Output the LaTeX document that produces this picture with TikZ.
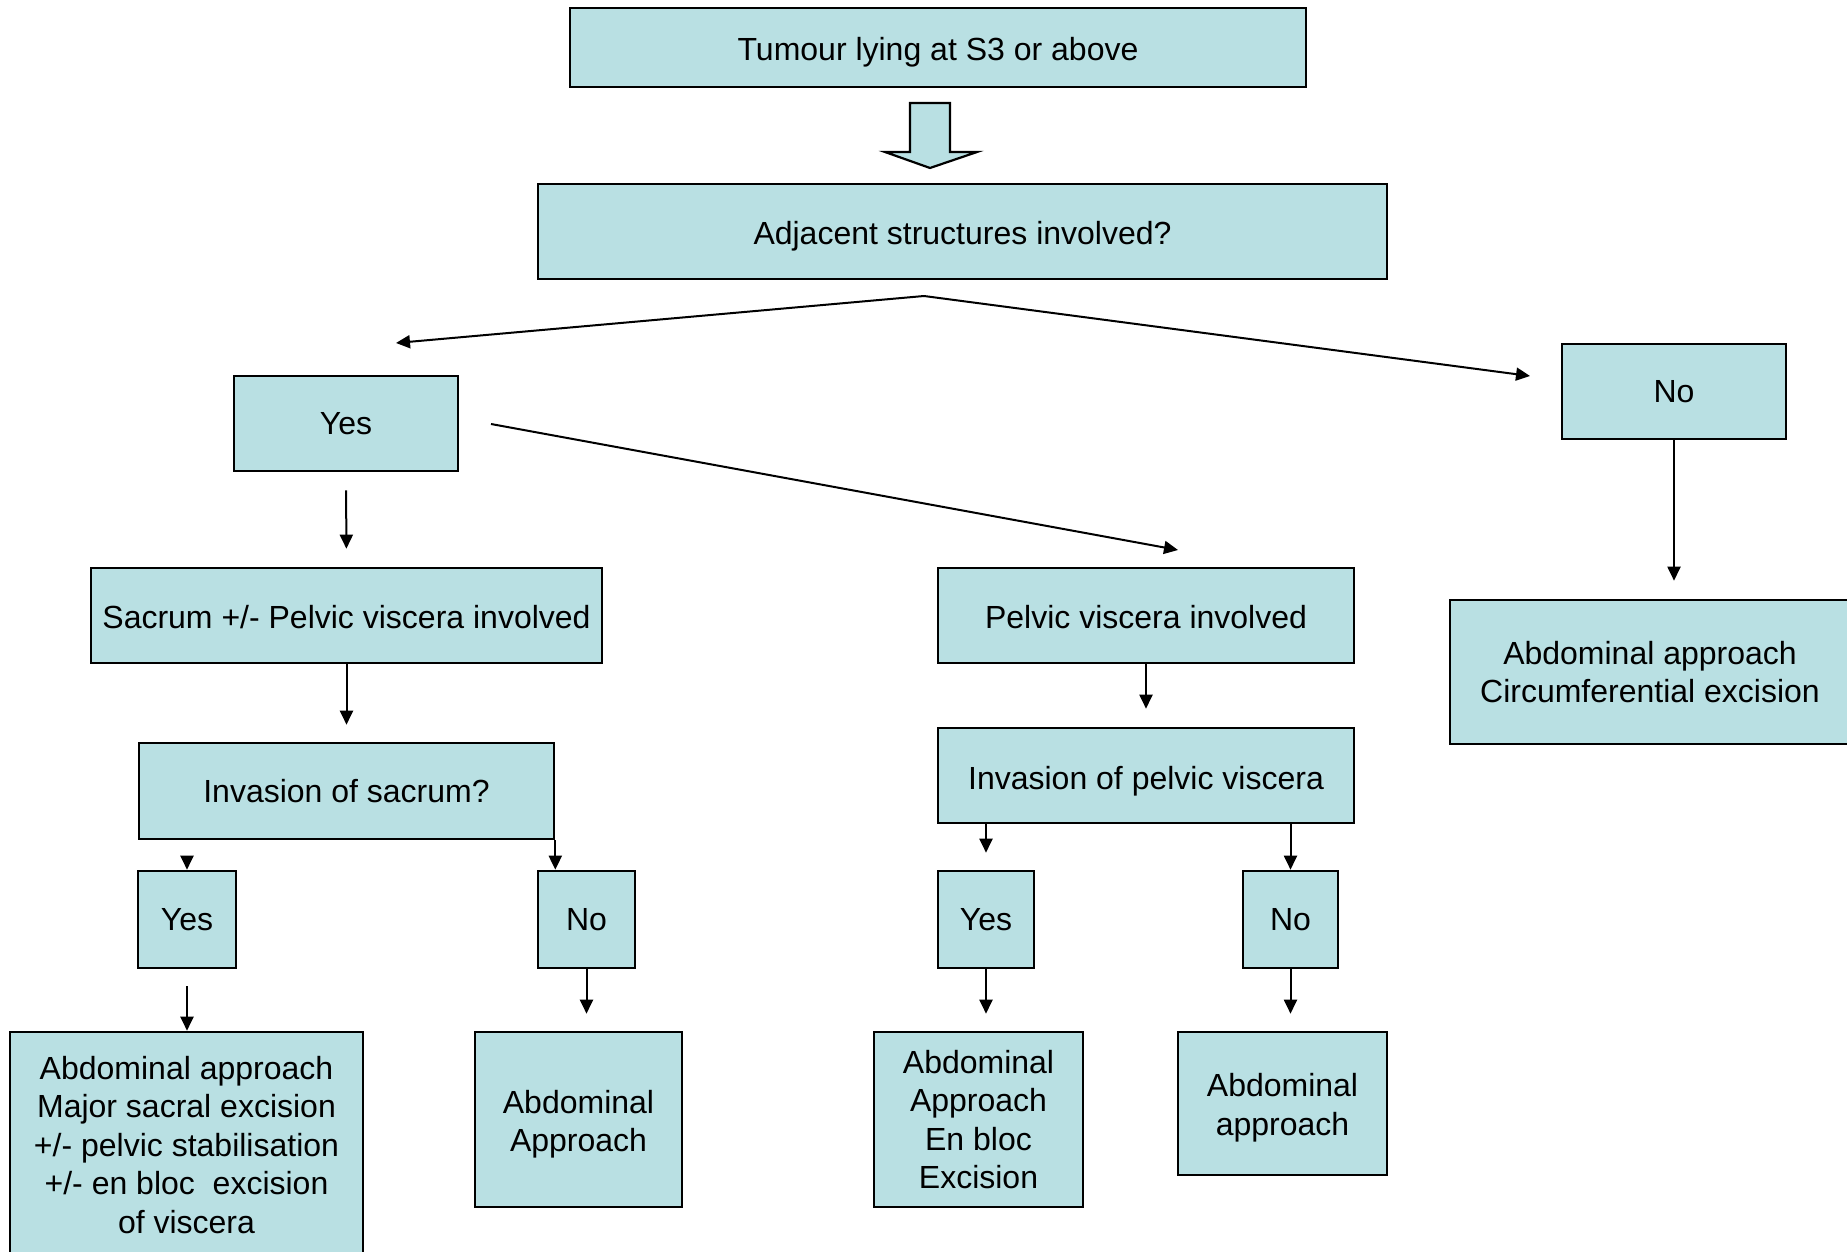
\documentclass[tikz,border=0pt]{standalone}
\usepackage{fontspec}
\setmainfont{Liberation Sans}
\usetikzlibrary{arrows.meta}
\definecolor{boxfill}{HTML}{B9E0E3}
\begin{document}
\begin{tikzpicture}[x=1pt,y=-1pt,
  box/.style={draw=black, line width=2.6pt, fill=boxfill, inner sep=0pt, align=center,
    font=\fontsize{32}{38.5}\selectfont},
  down/.style={text height=#1},
  conn/.style={draw=black, line width=2pt, -{Triangle[length=14pt,width=13pt]}}]
\useasboundingbox (0,0) rectangle (1847,1252);
\clip (0,0) rectangle (1847,1252);
\fill[white] (0,0) rectangle (1847,1252);
% boxes
\node[box, down=33pt, minimum width=736pt, minimum height=79pt] (top) at (938,47.5) {Tumour lying at S3 or above};
\node[box, down=33pt, minimum width=849pt, minimum height=95pt] (adj) at (962.5,231.5) {Adjacent structures involved?};
\node[box, minimum width=224pt, minimum height=95pt] (yes1) at (346,423.5) {Yes};
\node[box, minimum width=224pt, minimum height=95pt] (no1) at (1674,391.5) {No};
\node[box, down=27pt, minimum width=511pt, minimum height=95pt] (sac) at (346.5,615.5) {Sacrum +/- Pelvic viscera involved};
\node[box, down=27pt, minimum width=416pt, minimum height=95pt] (pel) at (1146,615.5) {Pelvic viscera involved};
\node[box, minimum width=400pt, minimum height=144pt] (circ) at (1650,672) {Abdominal approach\\Circumferential excision};
\node[box, minimum width=415pt, minimum height=96pt] (invs) at (346.5,791) {Invasion of sacrum?};
\node[box, down=34pt, minimum width=416pt, minimum height=95pt] (invp) at (1146,775.5) {Invasion of pelvic viscera};
\node[box, minimum width=98pt, minimum height=97pt] (yes2) at (187,919.5) {Yes};
\node[box, minimum width=97pt, minimum height=97pt] (no2) at (586.5,919.5) {No};
\node[box, minimum width=96pt, minimum height=97pt] (yes3) at (986,919.5) {Yes};
\node[box, minimum width=95pt, minimum height=97pt] (no3) at (1290.5,919.5) {No};
\node[box, minimum width=353pt, minimum height=226pt] (maj) at (186.5,1145) {Abdominal approach\\Major sacral excision\\+/- pelvic stabilisation\\+/- en bloc\ \ excision\\of viscera};
\node[box, down=71pt, minimum width=207pt, minimum height=175pt] (abd2) at (578.5,1119.5) {Abdominal\\Approach};
\node[box, minimum width=209pt, minimum height=175pt] (abd3) at (978.5,1119.5) {Abdominal\\Approach\\En bloc\\Excision};
\node[box, down=70pt, minimum width=209pt, minimum height=143pt] (abd4) at (1282.5,1103.5) {Abdominal\\approach};
% block arrow
\draw[line width=2.2pt, fill=boxfill, line join=miter]
  (910,103) -- (950,103) -- (950,152) -- (977,152) -- (930,168) -- (885,152) -- (910,152) -- cycle;
% coordinates
\coordinate (split) at (924,296);
\coordinate (yesend) at (396,343);
\coordinate (noend) at (1530,376);
\coordinate (ypstart) at (491,424);
\coordinate (ypend) at (1178,550);
% connectors
\draw[conn] (split) -- (yesend);
\draw[conn] (split) -- (noend);
\draw[conn, shorten <=18pt, shorten >=18pt] (yes1.south) -- (sac.north);
\draw[conn] (ypstart) -- (ypend);
\draw[conn, shorten >=18pt] (no1.south) -- (circ.north -| no1.south);
\draw[conn, shorten >=17pt] (sac.south) -- (invs.north);
\draw[conn, shorten <=17pt] (invs.south -| yes2.north) -- (yes2.north);
\draw[conn] (invs.south east) -- (invs.south east |- no2.north);
\draw[conn, shorten <=17pt, shorten >=0pt] (yes2.south) -- (maj.north -| yes2.south);
\draw[conn, shorten >=17pt] (no2.south) -- (abd2.north -| no2.south);
\draw[conn, shorten >=18pt] (pel.south) -- (invp.north);
\draw[conn, shorten >=17pt] (invp.south -| yes3.north) -- (yes3.north);
\draw[conn] (invp.south -| no3.north) -- (no3.north);
\draw[conn, shorten >=17pt] (yes3.south) -- (abd3.north -| yes3.south);
\draw[conn, shorten >=17pt] (no3.south) -- (abd4.north -| no3.south);
\end{tikzpicture}
\end{document}
